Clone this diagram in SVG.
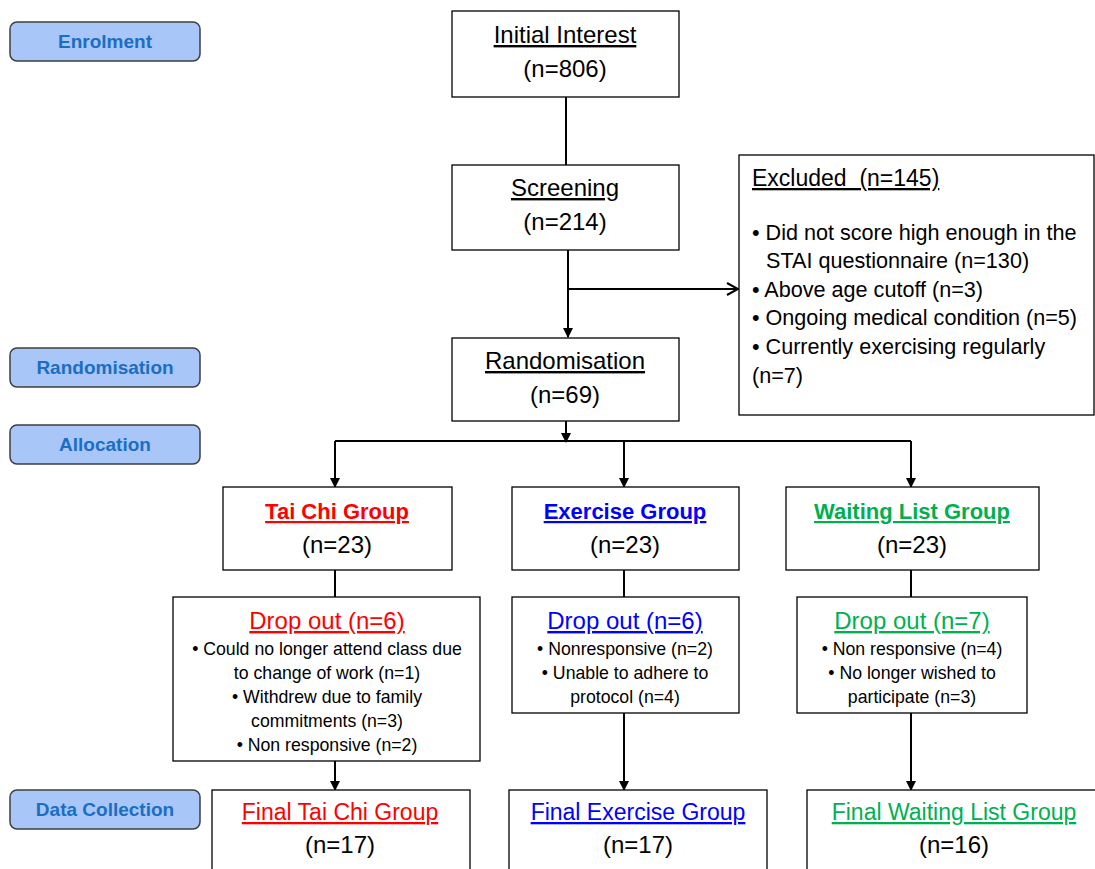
<svg xmlns="http://www.w3.org/2000/svg" width="1095" height="869" viewBox="0 0 1095 869">
<defs>
<marker id="tri" markerWidth="10" markerHeight="10" refX="9" refY="5" orient="auto" markerUnits="userSpaceOnUse">
<path d="M0,0 L10,5 L0,10 Z" fill="#000"/>
</marker>
<marker id="chev" markerWidth="14" markerHeight="14" refX="12" refY="7" orient="auto" markerUnits="userSpaceOnUse">
<path d="M1,1 L12,7 L1,13" fill="none" stroke="#000" stroke-width="2"/>
</marker>
</defs>
<style>
text{font-family:"Liberation Sans",Arial,sans-serif;fill:#000}
.box{fill:#fff;stroke:#000;stroke-width:1.3}
.stage rect{fill:#a8c6f8;stroke:#3f3f3f;stroke-width:1.5}
.stage text{font-weight:bold;font-size:19px;fill:#1b6ec2;text-anchor:middle}
.t{font-size:24px;text-anchor:middle;text-decoration:underline}
.n{font-size:24px;text-anchor:middle}
.g{font-size:22px;font-weight:bold;text-anchor:middle;text-decoration:underline}
.d{font-size:24px;text-anchor:middle;text-decoration:underline}
.b{font-size:17.7px;text-anchor:middle}
.e{font-size:21.6px}
.f{font-size:23px;text-anchor:middle;text-decoration:underline}
.red{fill:#ff0000}.blue{fill:#0000ff}.green{fill:#00b050}
.ln{fill:none;stroke:#000;stroke-width:2}
</style>

<g id="stage-enrolment" class="stage"><rect x="10" y="22" width="190" height="39" rx="7"/><text x="105" y="48">Enrolment</text></g>
<g id="stage-randomisation" class="stage"><rect x="10" y="348" width="190" height="39" rx="7"/><text x="105" y="374">Randomisation</text></g>
<g id="stage-allocation" class="stage"><rect x="10" y="425" width="190" height="39" rx="7"/><text x="105" y="451">Allocation</text></g>
<g id="stage-data" class="stage"><rect x="10" y="790" width="190" height="39" rx="7"/><text x="105" y="816">Data Collection</text></g>

<g id="connectors">
<path class="ln" d="M566,97 V165"/>
<path class="ln" d="M568,250 V337" marker-end="url(#tri)"/>
<path class="ln" d="M568,289 H738" marker-end="url(#chev)"/>
<path class="ln" d="M566,421 V442" marker-end="url(#tri)"/>
<path class="ln" d="M335,441 H911"/>
<path class="ln" d="M335,441 V487" marker-end="url(#tri)"/>
<path class="ln" d="M624,441 V487" marker-end="url(#tri)"/>
<path class="ln" d="M911,441 V487" marker-end="url(#tri)"/>
<path class="ln" d="M335,570 V597"/>
<path class="ln" d="M624,570 V597"/>
<path class="ln" d="M911,570 V597"/>
<path class="ln" d="M335,761 V790" marker-end="url(#tri)"/>
<path class="ln" d="M624,713 V790" marker-end="url(#tri)"/>
<path class="ln" d="M911,713 V790" marker-end="url(#tri)"/>
</g>

<g id="initial"><rect class="box" x="452" y="11" width="227" height="86"/><text class="t" x="565" y="43">Initial Interest</text><text class="n" x="565" y="77">(n=806)</text></g>
<g id="screening"><rect class="box" x="452" y="165" width="227" height="85"/><text class="t" x="565" y="196">Screening</text><text class="n" x="565" y="230">(n=214)</text></g>
<g id="excluded"><rect class="box" x="739" y="155" width="355" height="260"/>
<text x="752" y="186" style="font-size:23px;text-decoration:underline;white-space:pre">Excluded  (n=145)</text>
<text class="e" x="752" y="240">• Did not score high enough in the</text>
<text class="e" x="766" y="268">STAI questionnaire (n=130)</text>
<text class="e" x="752" y="297">• Above age cutoff (n=3)</text>
<text class="e" x="752" y="325">• Ongoing medical condition (n=5)</text>
<text class="e" x="752" y="354">• Currently exercising regularly</text>
<text class="e" x="752" y="383">(n=7)</text>
</g>
<g id="randomisation"><rect class="box" x="452" y="338" width="227" height="83"/><text class="t" x="565" y="369">Randomisation</text><text class="n" x="565" y="403">(n=69)</text></g>

<g id="taichi"><rect class="box" x="223" y="487" width="229" height="83"/><text class="g red" x="337" y="519">Tai Chi Group</text><text class="n" x="337" y="553">(n=23)</text></g>
<g id="exercise"><rect class="box" x="512" y="487" width="227" height="83"/><text class="g blue" x="625" y="519">Exercise Group</text><text class="n" x="625" y="553">(n=23)</text></g>
<g id="waiting"><rect class="box" x="786" y="487" width="253" height="83"/><text class="g green" x="912" y="519">Waiting List Group</text><text class="n" x="912" y="553">(n=23)</text></g>

<g id="drop-taichi"><rect class="box" x="173" y="597" width="307" height="164"/>
<text class="d red" x="327" y="629">Drop out (n=6)</text>
<text class="b" x="327" y="655">• Could no longer attend class due</text>
<text class="b" x="327" y="679">to change of work (n=1)</text>
<text class="b" x="327" y="703">• Withdrew due to family</text>
<text class="b" x="327" y="727">commitments (n=3)</text>
<text class="b" x="327" y="751">• Non responsive (n=2)</text>
</g>
<g id="drop-exercise"><rect class="box" x="512" y="597" width="227" height="116"/>
<text class="d blue" x="625" y="629">Drop out (n=6)</text>
<text class="b" x="625" y="655">• Nonresponsive (n=2)</text>
<text class="b" x="625" y="679">• Unable to adhere to</text>
<text class="b" x="625" y="703">protocol (n=4)</text>
</g>
<g id="drop-waiting"><rect class="box" x="797" y="597" width="230" height="116"/>
<text class="d green" x="912" y="629">Drop out (n=7)</text>
<text class="b" x="912" y="655">• Non responsive (n=4)</text>
<text class="b" x="912" y="679">• No longer wished to</text>
<text class="b" x="912" y="703">participate (n=3)</text>
</g>

<g id="final-taichi"><rect class="box" x="212" y="790" width="258" height="90"/><text class="f red" x="340" y="820">Final Tai Chi Group</text><text class="n" x="340" y="853">(n=17)</text></g>
<g id="final-exercise"><rect class="box" x="509" y="790" width="258" height="90"/><text class="f blue" x="638" y="820">Final Exercise Group</text><text class="n" x="638" y="853">(n=17)</text></g>
<g id="final-waiting"><rect class="box" x="807" y="790" width="300" height="90"/><text class="f green" x="954" y="820">Final Waiting List Group</text><text class="n" x="954" y="853">(n=16)</text></g>
</svg>
